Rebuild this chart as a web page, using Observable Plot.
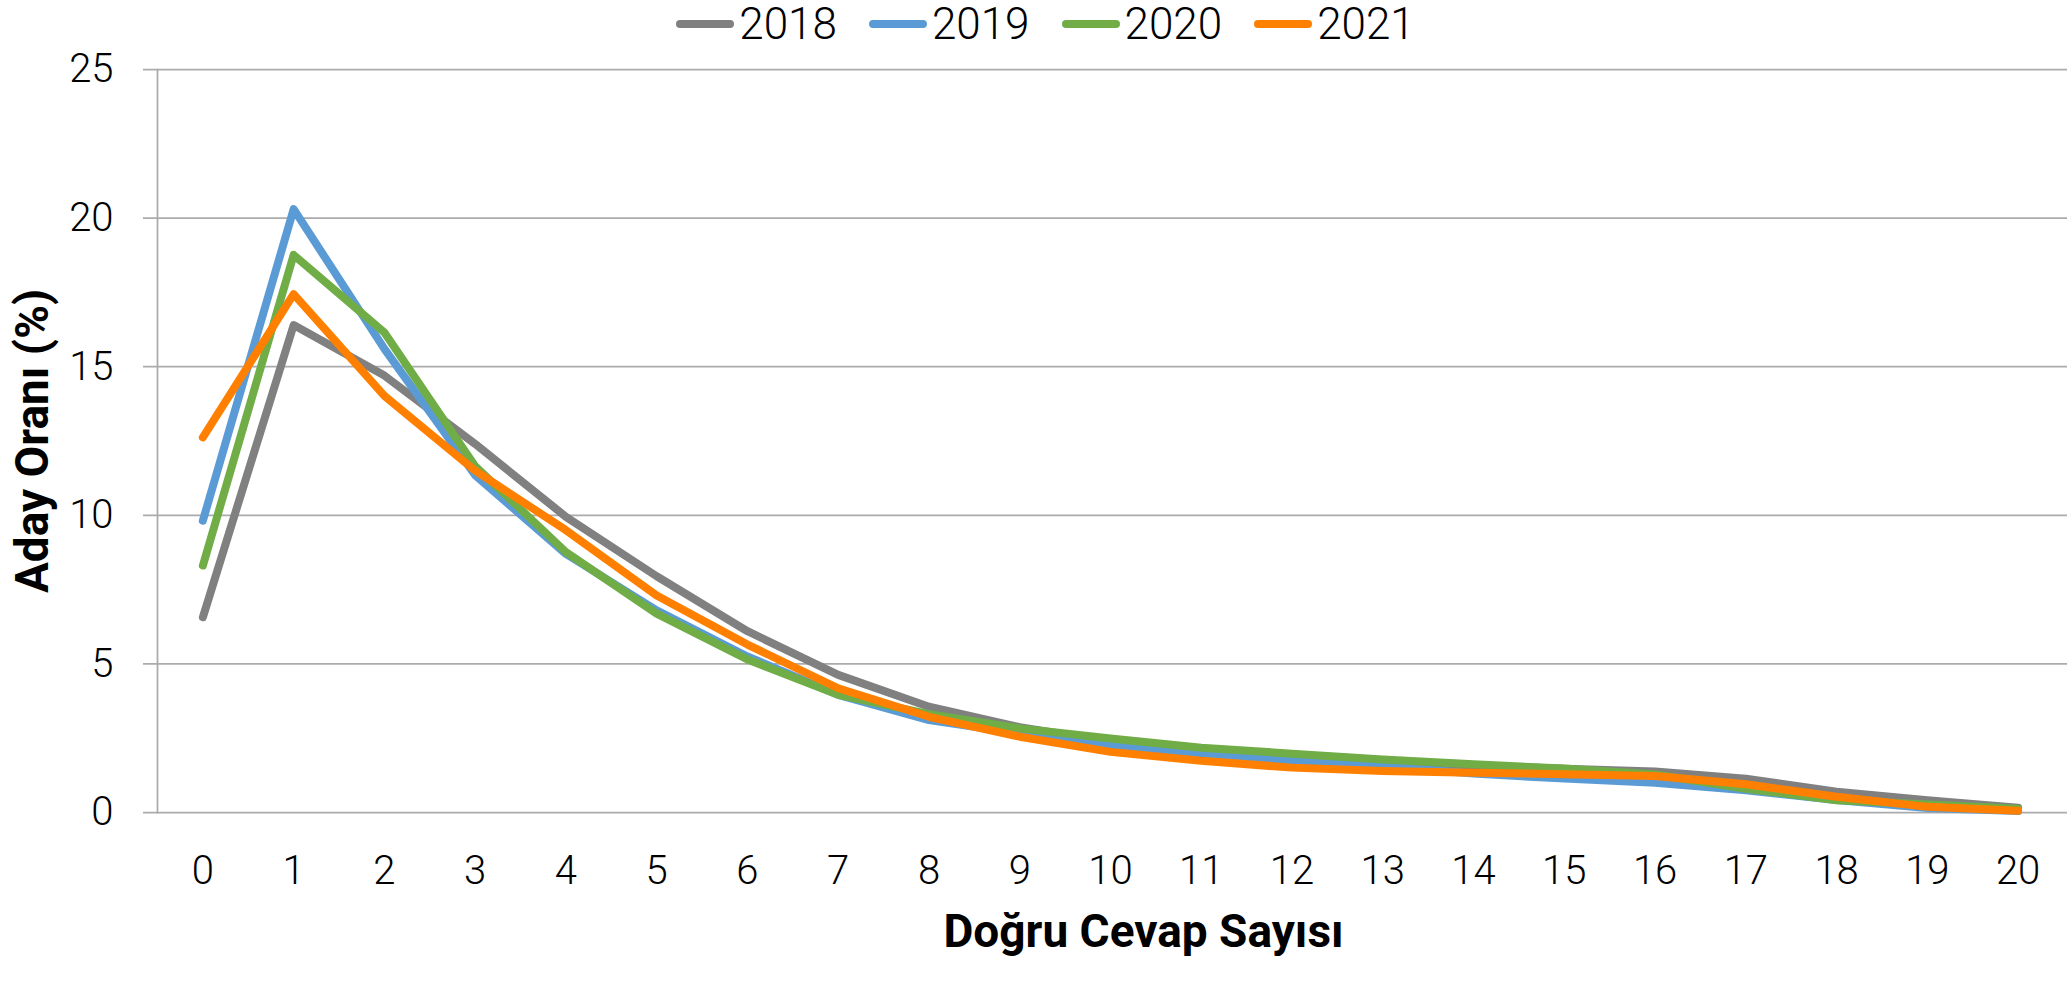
<!DOCTYPE html>
<html><head><meta charset="utf-8">
<script src="https://cdn.jsdelivr.net/npm/d3@7"></script>
<script src="https://cdn.jsdelivr.net/npm/@observablehq/plot@0.6"></script>
<style>
body{margin:0;background:#fff;width:2067px;height:990px;overflow:hidden;font-family:Roboto,sans-serif;position:relative;}
#legend{position:absolute;left:0;top:0;width:2067px;height:48px;display:flex;align-items:center;justify-content:center;padding-left:24px;box-sizing:border-box;}
.item{display:flex;align-items:center;margin:0 16px;}
.sw{width:58px;height:8px;border-radius:4px;margin-right:5px;}
.lab{font-size:44px;font-weight:300;color:#000;line-height:1;}
</style></head><body>
<div id="chart"></div>
<div id="legend"></div>
<script>
const counts = [0,1,2,3,4,5,6,7,8,9,10,11,12,13,14,15,16,17,18,19,20];
const years = ["2018","2019","2020","2021"];
const colors = ["#808080","#5B9BD5","#70AD47","#FF8000"];
const yTicks = [0,5,10,15,20,25];
const v2018 = [6.57,16.4,14.7,12.4,9.95,7.95,6.1,4.63,3.56,2.87,2.38,2.05,1.82,1.68,1.58,1.47,1.38,1.14,0.7,0.41,0.16];
const v2019 = [9.82,20.3,15.6,11.35,8.7,6.8,5.25,3.96,3.11,2.66,2.27,1.96,1.76,1.55,1.31,1.14,1.0,0.75,0.42,0.15,0.05];
const v2020 = [8.31,18.76,16.15,11.65,8.76,6.69,5.15,3.96,3.31,2.83,2.49,2.18,1.98,1.78,1.62,1.48,1.28,0.8,0.41,0.27,0.13];
const v2021 = [12.62,17.44,14.02,11.5,9.5,7.3,5.65,4.18,3.22,2.55,2.04,1.74,1.51,1.40,1.34,1.29,1.23,0.95,0.53,0.19,0.06];
const yAxisTitle = "Aday Oranı (%)";
const xAxisTitle = "Doğru Cevap Sayısı";

const series = [v2018, v2019, v2020, v2021];
const rows = [];
years.forEach((yr, i) => counts.forEach((c, j) => rows.push({year: yr, x: c, v: series[i][j]})));

// legend
const lg = document.getElementById("legend");
years.forEach((yr, i) => {
  const it = document.createElement("div"); it.className = "item";
  const sw = document.createElement("span"); sw.className = "sw"; sw.style.background = colors[i];
  const lb = document.createElement("span"); lb.className = "lab"; lb.textContent = yr;
  it.appendChild(sw); it.appendChild(lb); lg.appendChild(it);
});

const plot = Plot.plot({
  width: 2067, height: 990,
  marginLeft: 157, marginRight: 0, marginTop: 69, marginBottom: 178,
  style: {fontFamily: "Roboto", fontWeight: 300, fontSize: "40px", color: "#000", background: "#fff"},
  x: {type: "point", domain: counts, padding: 0.5, insetRight: 4, round: false},
  y: {domain: [0, 25]},
  color: {domain: years, range: colors},
  marks: [
    Plot.ruleY(yTicks, {stroke: "#ababab", strokeWidth: 1.75, insetLeft: -14}),
    Plot.frame({anchor: "left", stroke: "#ababab", strokeWidth: 1.75}),
    Plot.axisY(yTicks, {tickSize: 0, tickPadding: 44, label: null, fontSize: 40, fill: "#000"}),
    Plot.axisX(counts, {tickSize: 0, tickPadding: 43, label: null, fontSize: 40, fill: "#000"}),
    Plot.lineY(rows, {x: "x", y: "v", stroke: "year", z: "year", strokeWidth: 8, strokeLinecap: "round", strokeLinejoin: "round"}),
    Plot.text([yAxisTitle], {text: d => d, frameAnchor: "left", textAnchor: "middle", lineAnchor: "middle", rotate: -90, dx: -124, fontWeight: 700, fontSize: 46, fill: "#000"}),
    Plot.text([xAxisTitle], {text: d => d, frameAnchor: "bottom", textAnchor: "middle", lineAnchor: "middle", dx: 31, dy: 120, fontWeight: 700, fontSize: 46, fill: "#000"})
  ]
});
document.getElementById("chart").appendChild(plot);
</script>
</body></html>
